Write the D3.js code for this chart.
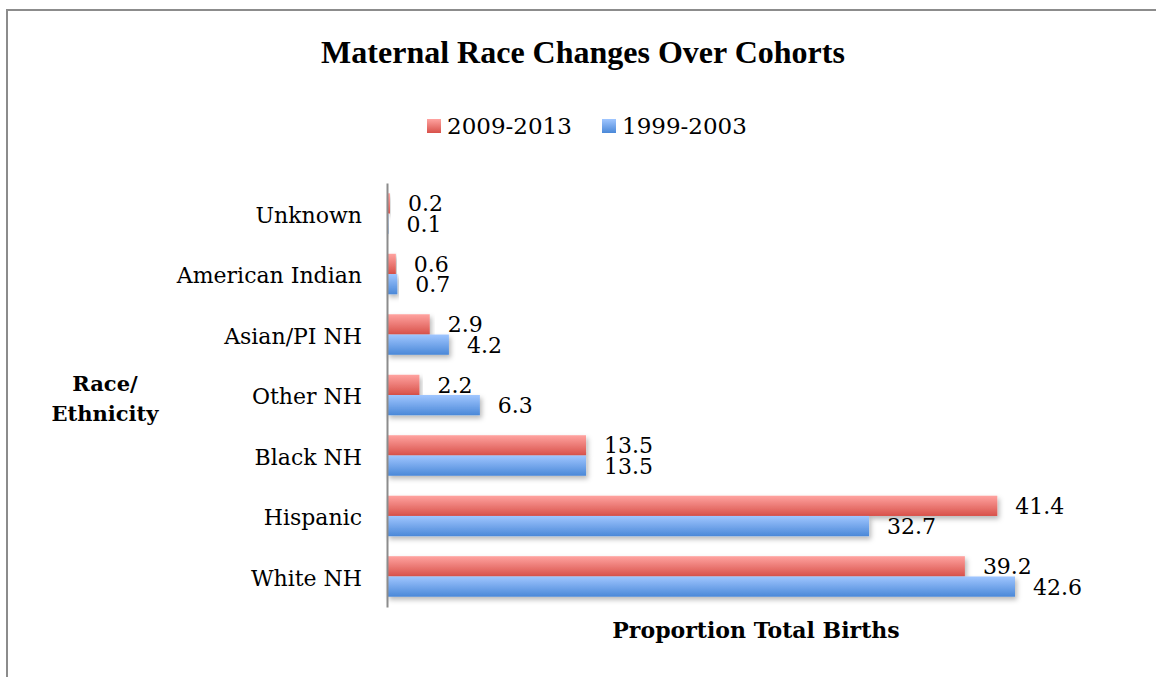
<!DOCTYPE html>
<html>
<head>
<meta charset="utf-8">
<script src="https://cdn.jsdelivr.net/npm/d3@7"></script>
<style>
  body { margin: 0; background: #fff; }
  svg { display: block; }
</style>
</head>
<body>
<div id="chart"></div>
<script>
// data
const categories = ["Unknown", "American Indian", "Asian/PI NH", "Other NH", "Black NH", "Hispanic", "White NH"]
const series = ["2009-2013", "1999-2003"]
const values2009 = [0.2, 0.6, 2.9, 2.2, 13.5, 41.4, 39.2]
const values1999 = [0.1, 0.7, 4.2, 6.3, 13.5, 32.7, 42.6]

const W = 1156, H = 677
const serif = "'DejaVu Serif', serif"

const svg = d3.select("#chart").append("svg")
    .attr("width", W)
    .attr("height", H)

const defs = svg.append("defs")
const grads = [["gRed", "#ffa3a0", "#d8514a"], ["gBlue", "#a0c6ff", "#4a88d8"]]
grads.forEach(([id, c1, c2]) => {
    const g = defs.append("linearGradient").attr("id", id)
        .attr("x1", 0).attr("y1", 0).attr("x2", 0).attr("y2", 1)
    g.append("stop").attr("offset", "0%").attr("stop-color", c1)
    g.append("stop").attr("offset", "100%").attr("stop-color", c2)
})
defs.append("filter").attr("id", "shadow")
    .attr("x", "-5%").attr("y", "-20%").attr("width", "115%").attr("height", "160%")
    .append("feDropShadow")
        .attr("dx", 2).attr("dy", 3).attr("stdDeviation", 2.5)
        .attr("flood-color", "#000").attr("flood-opacity", 0.28)

// outer frame
svg.append("rect")
    .attr("x", 7).attr("y", 10)
    .attr("width", W + 20).attr("height", H + 20)
    .attr("fill", "none").attr("stroke", "#8c8c8c").attr("stroke-width", 2)

const margin = {top: 183, left: 387}
const width = 628, height = 424

const g = svg.append("g").attr("transform", `translate(${margin.left},${margin.top})`)

const x = d3.scaleLinear().domain([0, 42.6]).range([0, width])
const y = d3.scaleBand().domain(categories).range([0, height]).paddingInner(0.33).paddingOuter(0.17)
const ySub = d3.scaleBand().domain(series).range([0, y.bandwidth()])
const color = d3.scaleOrdinal().domain(series).range(["url(#gRed)", "url(#gBlue)"])

const rows = categories.map((c, i) => ({cat: c, vals: [
    {key: series[0], value: values2009[i]},
    {key: series[1], value: values1999[i]}
]}))

const groups = g.selectAll("g.row")
    .data(rows)
    .join("g")
        .attr("class", "row")
        .attr("transform", d => `translate(0,${y(d.cat)})`)

groups.selectAll("rect")
    .data(d => d.vals)
    .join("rect")
        .attr("x", 0)
        .attr("y", d => ySub(d.key))
        .attr("width", d => x(d.value))
        .attr("height", ySub.bandwidth())
        .attr("fill", d => color(d.key))
        .attr("filter", "url(#shadow)")

groups.selectAll("text.val")
    .data(d => d.vals)
    .join("text")
        .attr("class", "val")
        .attr("x", d => x(d.value) + 18)
        .attr("y", d => ySub(d.key) + ySub.bandwidth() / 2)
        .attr("dy", "0.36em")
        .style("font-family", serif)
        .style("font-size", "22px")
        .attr("fill", "#000")
        .text(d => d.value)

// category axis
const yAxis = g.append("g")
    .call(d3.axisLeft(y).tickSize(0).tickPadding(25))
yAxis.select(".domain").attr("stroke", "#8c8c8c").attr("stroke-width", 2)
yAxis.selectAll("text")
    .attr("dy", "0.42em")
    .style("font-family", serif)
    .style("font-size", "22px")
    .attr("fill", "#000")

// title
svg.append("text")
    .attr("x", 583).attr("y", 63)
    .attr("text-anchor", "middle")
    .style("font-family", "'Liberation Serif', 'Times New Roman', serif")
    .style("font-weight", "bold")
    .style("font-size", "32px")
    .text("Maternal Race Changes Over Cohorts")

// legend
const legendItems = [{key: series[0], x: 427}, {key: series[1], x: 602}]
const legend = svg.append("g")
legend.selectAll("rect")
    .data(legendItems)
    .join("rect")
        .attr("x", d => d.x).attr("y", 119)
        .attr("width", 14).attr("height", 14)
        .attr("fill", d => color(d.key))
legend.selectAll("text")
    .data(legendItems)
    .join("text")
        .attr("x", d => d.x + 20).attr("y", 134)
        .style("font-family", serif)
        .style("font-size", "23px")
        .text(d => d.key)

// axis titles
const yTitle = svg.append("text")
    .attr("text-anchor", "middle")
    .style("font-family", serif)
    .style("font-weight", "bold")
    .style("font-size", "21px")
yTitle.append("tspan").attr("x", 105).attr("y", 391).text("Race/")
yTitle.append("tspan").attr("x", 105).attr("y", 421).text("Ethnicity")

svg.append("text")
    .attr("x", 756).attr("y", 638)
    .attr("text-anchor", "middle")
    .style("font-family", serif)
    .style("font-weight", "bold")
    .style("font-size", "22px")
    .text("Proportion Total Births")
</script>
</body>
</html>
